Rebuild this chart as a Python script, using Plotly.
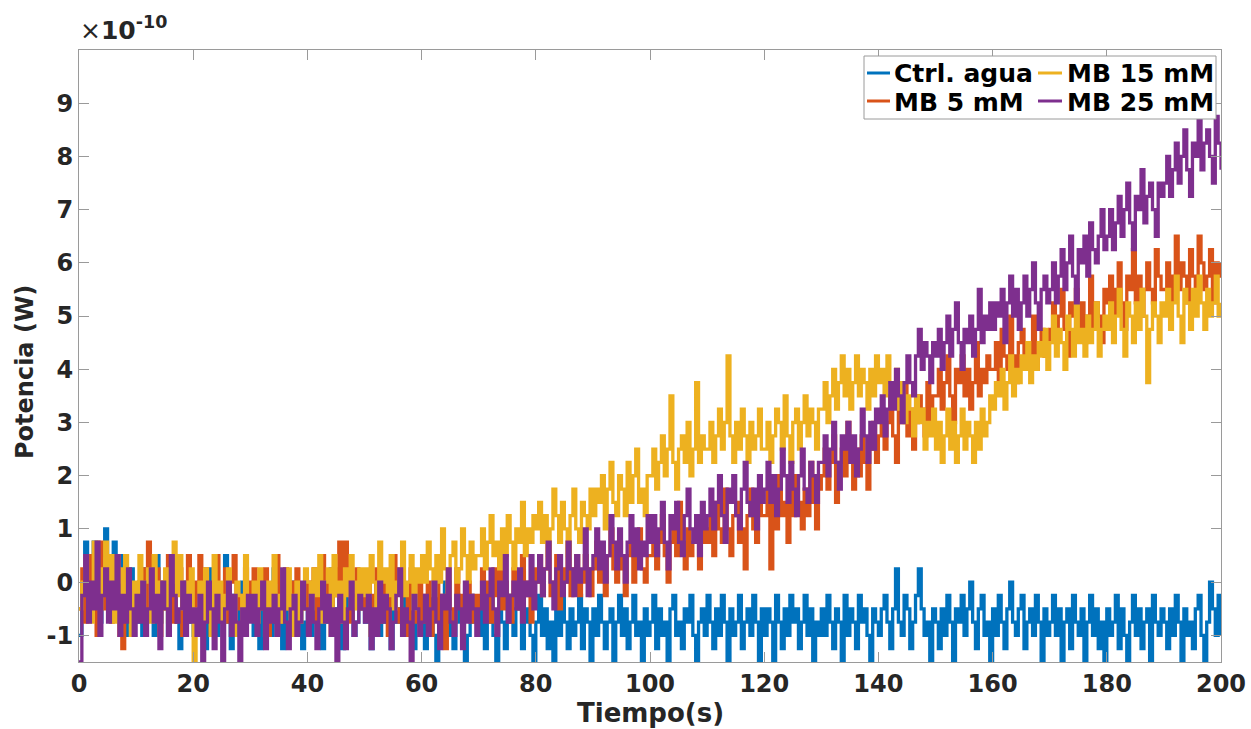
import plotly.graph_objects as go

# Sampled signals, in quantisation steps of 0.25e-10 W (MATLAB-style 1e-10 axis scaling)
Q_STEP = 0.25  # axis units (x1e-10 W) per quantisation level
T_END = 200.0

ctrl_q = [
    -4, -1, 3, -2, 0, 3, -1, -3, 2, 4, 1, -2, 3, 0, -3, 2, -1, -4, 1, -2,
    -3, 0, -4, 1, -2, -1, -4, 2, -3, -1, 0, -4, -2, 1, -3, -5, -1, 0, -2, -3,
    -4, -1, -3, 0, -5, -2, 1, -3, -4, -1, -2, 2, -3, -5, -1, -2, -4, 0, -3, -2,
    -1, -4, -2, -5, 0, -3, -2, -4, 1, -3, -1, -5, -2, -3, 0, -4, -2, -1, -5, -3,
    -2, -4, 0, -3, -1, -5, -2, -3, 1, -4, -2, -1, -5, -3, 0, -2, -4, -3, -1, -2,
    -3, -1, -5, -2, 0, -4, -3, -1, -2, -5, 1, -3, -2, -4, -1, -3, 0, -5, -2, -3,
    -2, -5, -3, -1, -4, -6, -2, -3, 0, -4, -3, -5, -1, -3, -2, -6, -4, -1, -3, -2,
    -4, -2, -5, -3, -1, -4, -6, -2, -3, -5, -1, -3, -4, -2, 0, -5, -3, -2, -4, -6,
    -3, -1, -4, -2, -5, -3, -6, -2, -4, -1, -3, -5, -2, -4, -3, -1, -5, -2, -3, -6,
    -2, -4, -1, -3, -5, -3, -2, -6, -3, -1, -4, -2, -5, -3, -1, -4, -3, -6, -2, -4,
    -3, -1, -5, -2, -4, -3, -6, -2, -1, -4, -3, -5, -2, -3, -1, -4, -6, -3, -2, -4,
    -1, -3, -5, -2, -4, -1, -3, -6, -2, -4, -3, -1, -5, -3, -2, -4, -1, -3, -6, -2,
    -4, -2, -3, -6, -1, -3, -5, -2, -4, -1, -3, -2, -5, -3, -1, -4, -2, -6, -3, -4,
    -2, -4, -1, -3, -5, -2, -3, -6, -1, -4, -2, -3, -5, -1, -3, -2, -4, -6, -2, -3,
    -4, -2, -1, -3, -5, -2, 1, -3, -4, -1, -2, -5, -3, -1, 1, -2, -4, -3, -6, -2,
    -3, -5, -2, -4, -1, -3, -6, -2, -3, -1, -4, -2, 0, -3, -5, -2, -1, -4, -3, -6,
    -2, -4, -1, -3, -5, -2, 0, -3, -4, -2, -1, -5, -3, -2, -4, -1, -3, -6, -2, -4,
    -3, -1, -4, -2, -6, -3, -2, -5, -1, -3, -4, -2, -6, -3, -1, -4, -2, -5, -3, -6,
    -2, -4, -3, -1, -5, -2, -4, -6, -3, -1, -4, -2, -5, -3, -2, -6, -1, -3, -4, -2,
    -3, -5, -2, -4, -1, -3, -6, -2, -4, -3, -5, -2, -1, -4, -6, -3, 0, -2, -4, -1,
    -4,
]

mb5_q = [
    -2, 1, -3, 0, 2, -1, -4, 3, -2, 0, 1, -3, -1, 2, -4, -5, -2, 0, -3, -1,
    -2, 0, 1, -3, 3, -1, -2, 1, -4, 0, -2, 2, -1, -3, 0, 1, -4, -1, 2, -2,
    0, -2, 2, -3, 1, -1, -4, 0, 2, -2, -1, 1, -3, 0, 2, -2, -1, -4, 1, 0,
    -1, 1, -3, 0, -2, 1, -4, -1, 0, 2, -3, -1, 1, -2, 0, -4, 1, -1, -2, 0,
    -2, 0, 1, -3, -1, 2, -2, 0, -4, 1, -1, 3, -2, 3, 0, -3, -1, 1, -2, 0,
    -2, 0, -4, -1, 1, -3, -2, 0, -4, -1, 2, -2, -3, 0, -1, -4, 1, -2, -3, 0,
    -3, -1, 0, -4, -2, 1, -3, -1, -5, 0, -2, -3, 1, -1, -4, -2, 0, -3, -1, -2,
    -1, 1, -2, 0, -3, 1, -1, 2, -2, 0, -1, -3, 1, 0, -2, 2, -1, 0, -3, 1,
    0, 2, -1, 1, 3, -1, 0, 2, -2, 1, 0, 3, -1, 1, 2, -1, 0, 2, 1, -1,
    1, 3, 0, 2, -1, 2, 4, 1, 0, 3, 1, -1, 2, 3, 0, 2, 4, 1, 0, 2,
    2, 4, 1, 3, 5, 2, 0, 3, 4, 2, 6, 3, 1, 4, 2, 3, 5, 1, 3, 4,
    3, 5, 2, 6, 4, 3, 7, 4, 2, 5, 6, 3, 4, 1, 5, 7, 4, 3, 6, 5,
    5, 7, 1, 6, 4, 8, 5, 6, 3, 7, 5, 8, 6, 4, 7, 5, 9, 6, 4, 7,
    8, 10, 7, 9, 11, 6, 9, 10, 8, 12, 9, 7, 10, 8, 11, 9, 7, 10, 12, 9,
    11, 13, 10, 12, 14, 11, 9, 13, 12, 15, 11, 13, 10, 12, 14, 13, 11, 15, 12, 14,
    14, 16, 13, 15, 17, 14, 12, 16, 15, 17, 14, 16, 13, 15, 18, 14, 16, 15, 17, 16,
    16, 18, 15, 19, 17, 16, 20, 17, 15, 18, 19, 16, 18, 17, 20, 16, 18, 19, 17, 18,
    19, 21, 18, 20, 22, 19, 17, 21, 20, 22, 19, 21, 18, 20, 23, 19, 21, 20, 18, 22,
    21, 23, 20, 22, 24, 21, 19, 23, 22, 25, 21, 23, 20, 22, 24, 22, 21, 25, 23, 22,
    22, 24, 21, 23, 26, 22, 24, 23, 21, 25, 23, 22, 26, 24, 22, 23, 25, 21, 24, 23,
    24,
]

mb15_q = [
    -2, 0, 2, -1, -3, 3, 0, -2, 1, 3, -1, 2, -3, 0, 1, -2, 2, -1, -4, 0,
    -1, 2, -2, 0, 1, -3, 2, -1, 0, -2, 1, -3, 0, 3, -1, 2, -2, 0, -1, 1,
    -6, -2, 0, -3, 1, -1, -4, 2, -2, 0, -3, -1, 1, -2, -4, 0, -1, -3, 2, -2,
    -2, 0, -3, 1, -1, -4, 0, -2, 2, -1, -3, 0, -2, 1, -4, -1, 0, -3, -2, 1,
    0, -2, 1, -1, 2, -3, 0, 1, -2, 2, -1, 0, -3, 1, -1, 2, 0, -2, 1, -1,
    1, -1, 2, 0, -2, 3, 0, 1, -1, 2, -2, 0, 1, 3, -1, 0, 2, -2, 1, 0,
    2, 0, 3, 1, -1, 2, 0, 4, 1, -1, 2, 3, 0, 1, 4, 2, 0, 3, 1, 2,
    2, 4, 1, 3, 5, 2, 3, 1, 4, 2, 5, 3, 1, 4, 3, 6, 2, 4, 3, 5,
    4, 6, 3, 5, 2, 4, 7, 5, 3, 6, 4, 2, 5, 7, 4, 3, 6, 5, 4, 7,
    5, 7, 6, 8, 4, 7, 9, 6, 5, 8, 7, 5, 9, 6, 8, 10, 6, 7, 5, 8,
    8, 10, 7, 9, 11, 8, 10, 14, 9, 7, 10, 11, 9, 12, 8, 10, 15, 9, 11, 10,
    10, 12, 9, 11, 13, 10, 12, 17, 11, 9, 12, 10, 13, 11, 9, 12, 10, 11, 13, 10,
    10, 12, 9, 11, 13, 12, 10, 14, 11, 9, 12, 13, 10, 12, 14, 11, 13, 12, 10, 13,
    13, 15, 12, 14, 16, 13, 15, 17, 14, 16, 13, 15, 17, 14, 16, 15, 13, 16, 14, 17,
    15, 16, 14, 17, 15, 14, 16, 13, 15, 12, 14, 13, 11, 14, 12, 13, 10, 12, 11, 13,
    10, 12, 9, 11, 13, 10, 12, 9, 11, 13, 10, 12, 11, 9, 12, 10, 13, 11, 12, 14,
    13, 15, 14, 16, 13, 15, 17, 14, 16, 15, 17, 16, 18, 15, 17, 16, 18, 17, 19, 16,
    18, 20, 17, 19, 18, 16, 20, 19, 17, 21, 18, 19, 17, 20, 18, 19, 21, 17, 19, 20,
    19, 21, 18, 20, 22, 19, 17, 21, 20, 18, 21, 19, 22, 20, 15, 19, 21, 20, 18, 21,
    20, 22, 19, 21, 23, 20, 18, 22, 21, 19, 22, 20, 23, 21, 19, 22, 20, 21, 23, 20,
    21,
]

mb25_q = [
    -6, -1, 2, -3, 0, -2, 3, -4, -1, 1, -3, 0, -2, 2, -4, -1, -3, 1, -2, -4,
    -1, -3, 0, -4, -2, 1, -3, -1, -5, 0, -2, -4, 2, -1, -3, -2, 0, -4, -1, -3,
    -2, -4, -1, -6, -3, 0, -2, -5, -1, -3, -6, -2, 0, -4, -1, -3, -6, -2, -4, -1,
    -3, -1, -4, -2, 0, -5, -2, -3, -1, -4, -2, 1, -3, -5, -2, -1, -4, -3, 0, -2,
    -4, -1, -3, -5, -2, 0, -3, -1, -4, -2, -6, -1, -3, -5, -2, 0, -4, -3, -1, -2,
    -3, -1, -5, -2, -4, 0, -3, -1, -2, -5, -3, -1, 1, -4, -2, -3, -6, -1, -2, -4,
    -3, -1, -4, -2, 0, -3, -5, -1, -2, 1, -3, -4, -1, -2, -5, 0, -3, -1, -2, -4,
    -2, 0, -3, -1, 1, -2, -4, 0, -1, 2, -3, -1, 0, -2, 1, -3, 0, -1, 2, -2,
    0, 2, -1, 1, 3, 0, -2, 1, 2, -1, 0, 3, 1, -1, 2, 0, 1, 4, -1, 1,
    2, 4, 1, 3, 0, 2, 5, 3, 1, 4, 2, 0, 3, 5, 2, 4, 1, 3, 2, 5,
    3, 5, 2, 4, 6, 3, 1, 5, 4, 6, 3, 2, 5, 7, 4, 3, 5, 2, 6, 4,
    5, 7, 4, 6, 8, 5, 3, 7, 6, 8, 5, 4, 7, 9, 6, 5, 7, 4, 8, 6,
    7, 9, 6, 8, 5, 7, 10, 8, 6, 9, 7, 5, 8, 10, 7, 6, 9, 8, 6, 9,
    9, 11, 8, 10, 12, 9, 7, 11, 10, 12, 9, 11, 8, 10, 13, 11, 9, 12, 10, 13,
    12, 14, 11, 13, 15, 13, 16, 14, 12, 15, 17, 15, 14, 17, 19, 16, 18, 17, 15, 18,
    17, 19, 16, 18, 20, 17, 19, 21, 18, 16, 19, 18, 20, 17, 19, 22, 18, 20, 19, 21,
    19, 21, 20, 22, 18, 21, 23, 20, 22, 19, 21, 23, 20, 22, 24, 21, 19, 22, 23, 21,
    22, 24, 21, 23, 25, 22, 24, 26, 23, 21, 25, 24, 26, 23, 27, 25, 24, 26, 28, 25,
    26, 28, 25, 27, 29, 26, 28, 30, 27, 25, 29, 28, 31, 27, 29, 30, 28, 26, 30, 29,
    30, 32, 29, 31, 33, 30, 32, 34, 31, 29, 33, 32, 35, 31, 33, 34, 32, 30, 35, 33,
    31,
]

series_names = ["Ctrl. agua", "MB 5 mM", "MB 15 mM", "MB 25 mM"]
series_colors = ["#0072BD", "#D95319", "#EDB120", "#7E2F8E"]
x_ticks = [0, 20, 40, 60, 80, 100, 120, 140, 160, 180, 200]
y_ticks = [-1, 0, 1, 2, 3, 4, 5, 6, 7, 8, 9]

FONT = "DejaVu Sans"
AX_GRAY = "#9a9a9a"
TXT = "#262626"
LW = 3.3

W, H = 1251, 729
ML, MR, MT, MB_ = 79, 30, 50, 67
gw, gh = W - ML - MR, H - MT - MB_


def px_x(p):
    return (p - ML) / gw


def px_y(p):
    return (H - MB_ - p) / gh


fig = go.Figure()
for q, name, color in zip([ctrl_q, mb5_q, mb15_q, mb25_q], series_names, series_colors):
    n = len(q)
    t = [T_END * i / (n - 1) for i in range(n)]
    y = [v * Q_STEP for v in q]
    fig.add_trace(go.Scatter(
        x=t, y=y, mode="lines", name=name, showlegend=False,
        line=dict(color=color, width=LW, shape="hv"),
        hoverinfo="skip",
    ))

# Legend (two columns, column-major like the MATLAB legend)
legend_slots = [  # (key x0, key x1, text x, row y) in page pixels
    (867, 890, 892, 73),    # Ctrl. agua
    (867, 890, 892, 101),   # MB 5 mM
    (1038, 1062, 1065, 73),  # MB 15 mM
    (1038, 1062, 1065, 101),  # MB 25 mM
]
shapes = [dict(
    type="rect", xref="paper", yref="paper", layer="above",
    x0=px_x(864), x1=px_x(1216), y0=px_y(119), y1=px_y(56),
    line=dict(color=AX_GRAY, width=1), fillcolor="white",
)]
annotations = []
for (k0, k1, tx, ry), name, color in zip(legend_slots, series_names, series_colors):
    shapes.append(dict(
        type="line", xref="paper", yref="paper", layer="above",
        x0=px_x(k0), x1=px_x(k1), y0=px_y(ry), y1=px_y(ry),
        line=dict(color=color, width=3),
    ))
    annotations.append(dict(
        xref="paper", yref="paper", x=px_x(tx), y=px_y(ry + 1),
        xanchor="left", yanchor="middle", showarrow=False,
        text=name, font=dict(family=FONT, size=25, color="black", weight="bold"),
    ))

# Exponent label and axis titles
annotations.append(dict(
    xref="paper", yref="paper", x=px_x(78), y=px_y(47), xanchor="left", yanchor="bottom",
    showarrow=False, text="×<b>10</b><sup><b>-10</b></sup>",
    font=dict(family=FONT, size=25, color=TXT),
))
annotations.append(dict(
    xref="paper", yref="paper", x=px_x(25), y=px_y(372), xanchor="center", yanchor="middle",
    showarrow=False, textangle=-90, text="Potencia (W)",
    font=dict(family=FONT, size=24, color=TXT, weight="bold"),
))
annotations.append(dict(
    xref="paper", yref="paper", x=px_x(650), y=px_y(713), xanchor="center", yanchor="middle",
    showarrow=False, text="Tiempo(s)",
    font=dict(family=FONT, size=26, color=TXT, weight="bold"),
))

fig.update_layout(
    width=W, height=H,
    margin=dict(l=ML, r=MR, t=MT, b=MB_, autoexpand=False),
    paper_bgcolor="white", plot_bgcolor="white",
    font=dict(family=FONT, color=TXT),
    showlegend=False,
    xaxis=dict(
        range=[0, 200], tickvals=x_ticks, ticktext=[str(v) for v in x_ticks],
        ticks="inside", ticklen=10, tickcolor=AX_GRAY, tickwidth=1,
        showline=True, linecolor=AX_GRAY, linewidth=1, mirror="ticks",
        showgrid=False, zeroline=False, automargin=False,
        tickfont=dict(family=FONT, size=24, color=TXT, weight="bold"),
    ),
    yaxis=dict(
        range=[-1.5, 10], tickvals=y_ticks, ticktext=[str(v) for v in y_ticks],
        ticks="inside", ticklen=10, tickcolor=AX_GRAY, tickwidth=1,
        showline=True, linecolor=AX_GRAY, linewidth=1, mirror="ticks",
        showgrid=False, zeroline=False, automargin=False,
        tickfont=dict(family=FONT, size=24, color=TXT, weight="bold"),
    ),
    shapes=shapes,
    annotations=annotations,
)

fig.write_html("out.html")
